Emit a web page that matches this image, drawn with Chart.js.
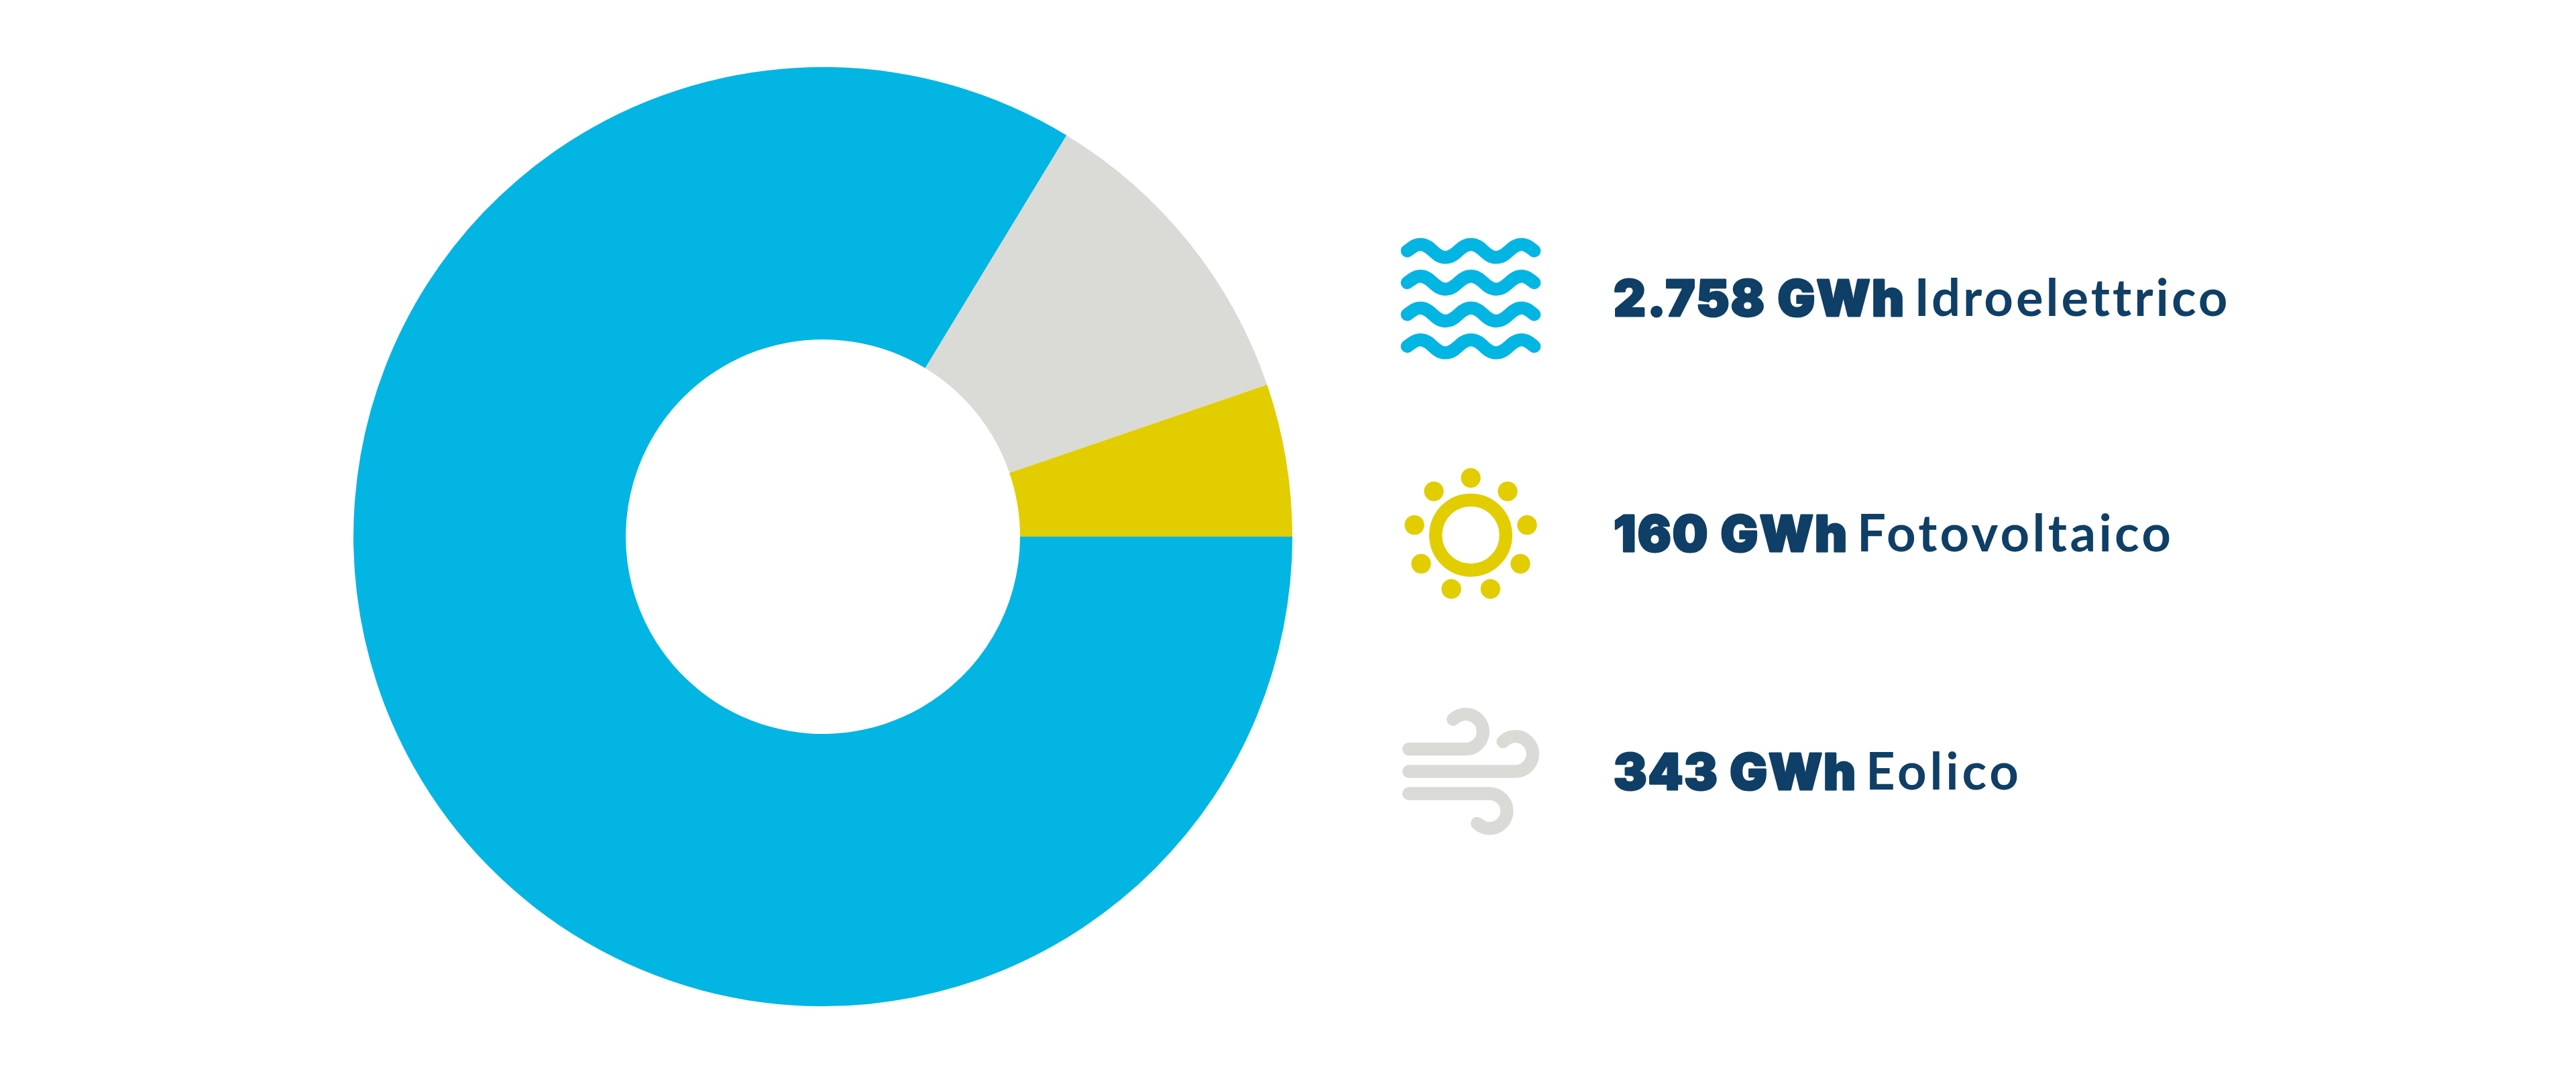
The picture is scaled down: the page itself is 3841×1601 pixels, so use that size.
<!DOCTYPE html>
<html lang="it">
<head>
<meta charset="utf-8">
<title>Produzione per fonte</title>
<script src="https://cdn.jsdelivr.net/npm/chart.js@4"></script>
<style>
html,body{margin:0;padding:0;background:#fff;width:3841px;height:1601px;overflow:hidden}
#c,#legend{position:absolute;left:0;top:0}
#c{width:3841px;height:1601px}
.v{font-family:Inter,sans-serif;font-weight:900;font-size:74px;fill:#0f3f66;stroke:#0f3f66;stroke-width:3px;stroke-linejoin:round}
.n{font-family:Lato,sans-serif;font-weight:700;font-size:76px;fill:#0f3f66;font-variant-ligatures:none}
.w{fill:none;stroke-width:58;stroke-linecap:round;stroke-linejoin:round}
</style>
</head>
<body>
<canvas id="c" width="3841" height="1601"></canvas>
<svg id="legend" width="3841" height="1601" viewBox="0 0 3841 1601" xmlns="http://www.w3.org/2000/svg">
  <g id="texts"></g>
  <g transform="translate(2050 330) scale(0.3333)" class="w" stroke="#02b5e3">
    <path id="wave" d="M145 132C165 118 180 103 203 103C253 103 266 161 316 161C366 161 380 103 430 103C480 103 493 161 543 161C593 161 607 103 657 103C680 103 695 118 713 132"/>
    <use href="#wave" y="142.3"/><use href="#wave" y="284.6"/><use href="#wave" y="426.9"/>
  </g>
  <g transform="translate(2060 680) scale(0.3333)" fill="#e1cd00">
    <circle cx="399" cy="353" r="157" fill="none" stroke="#e1cd00" stroke-width="58"/>
    <circle cx="399" cy="97" r="44"/><circle cx="234" cy="157" r="44"/><circle cx="564" cy="157" r="44"/>
    <circle cx="147" cy="308" r="44"/><circle cx="651" cy="308" r="44"/><circle cx="177" cy="481" r="44"/>
    <circle cx="621" cy="481" r="44"/><circle cx="312" cy="594" r="44"/><circle cx="487" cy="594" r="44"/>
  </g>
  <g transform="translate(2060 1040) scale(0.3333)" class="w" stroke="#dadad6">
    <path d="M122 230H376A78 78 0 0 0 376 74Q345 74 320 97"/>
    <path d="M122 330H598A78.5 78.5 0 0 0 598 173Q567 173 543 197"/>
    <path d="M122 429H483A78 78 0 0 1 483 585Q452 585 428 562"/>
  </g>
</svg>
<script>
// Categories in drawing order, clockwise from 3 o'clock
const categories = ['Idroelettrico', 'Eolico', 'Fotovoltaico'];
// Slice sizes as read from the drawn arcs
const arcValues = [2729, 361, 171];
const sliceColors = ['#02b5e3', '#dadad6', '#e1cd00'];

// Legend texts, top to bottom
const legendValues = ['2.758 GWh', '160 GWh', '343 GWh'];
const legendNames = ['Idroelettrico', 'Fotovoltaico', 'Eolico'];
// [baseline y, value start, value width, name start, name width]
const legendLayout = [
  [471, 2406, 433, 2854.5, 467],
  [822, 2406, 348, 2769, 468],
  [1177, 2406, 361, 2782, 228]
];

new Chart(document.getElementById('c'), {
  type: 'doughnut',
  data: { labels: categories, datasets: [{ data: arcValues, backgroundColor: sliceColors, borderWidth: 0, hoverOffset: 0 }] },
  options: {
    responsive: false, animation: false, devicePixelRatio: 1, rotation: 90, cutout: '42%',
    layout: { padding: { left: 527, right: 1914, top: 100, bottom: 101 } },
    plugins: { legend: { display: false }, tooltip: { enabled: false } }
  }
});

const NS = 'http://www.w3.org/2000/svg';
const g = document.getElementById('texts');
function addText(str, cls, x, y, len) {
  const t = document.createElementNS(NS, 'text');
  t.setAttribute('class', cls);
  t.setAttribute('x', x);
  t.setAttribute('y', y);
  t.setAttribute('textLength', len);
  t.setAttribute('lengthAdjust', 'spacing');
  t.textContent = str;
  g.appendChild(t);
}
legendValues.forEach((v, i) => {
  const [y, vx, vw, nx, nw] = legendLayout[i];
  addText(v, 'v', vx, y, vw);
  addText(legendNames[i], 'n', nx, y, nw);
});
</script>
</body>
</html>
